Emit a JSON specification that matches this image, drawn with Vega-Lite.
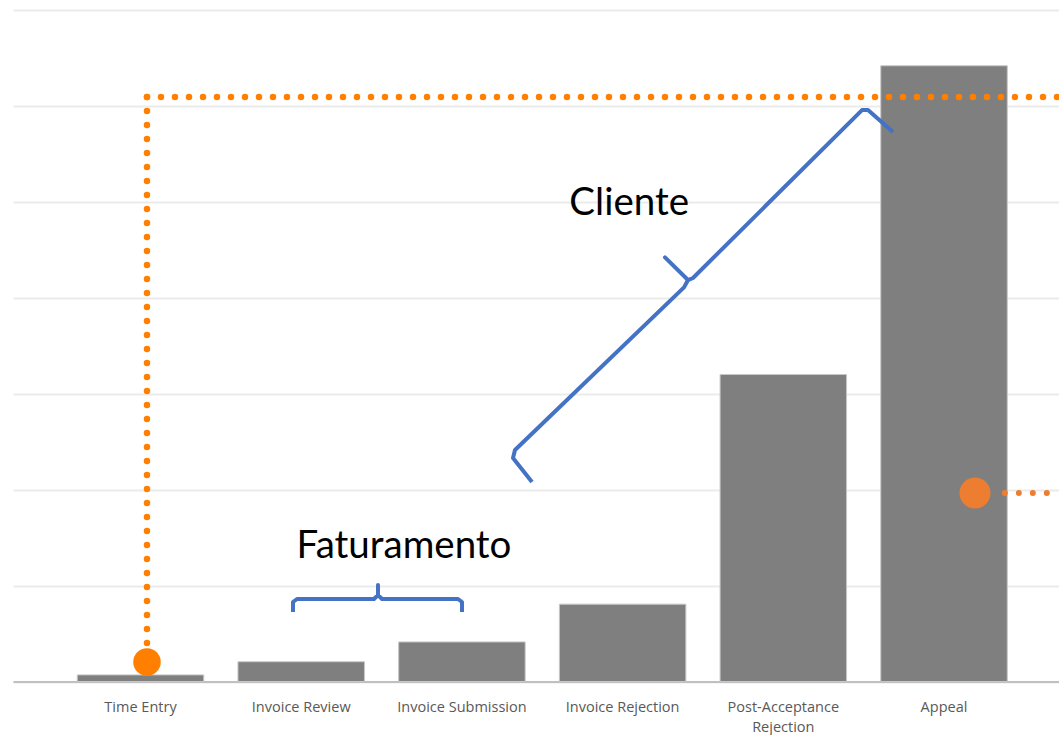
{
  "$schema": "https://vega.github.io/schema/vega-lite/v6.json",
  "width": 1046,
  "height": 671.5,
  "autosize": {"type": "none"},
  "padding": {"left": 13, "top": 10, "right": 0, "bottom": 53.5},
  "background": "white",
  "config": {"view": {"stroke": null}},
  "datasets": {
    "bars": [
      {"stage": "Time Entry", "value": 1.1},
      {"stage": "Invoice Review", "value": 3.3},
      {"stage": "Invoice Submission", "value": 6.6},
      {"stage": "Invoice Rejection", "value": 12.9},
      {"stage": "Post-Acceptance Rejection", "value": 51.2},
      {"stage": "Appeal", "value": 102.7}
    ],
    "guide1": [
      {"seg": "v", "o": 0, "x": 0.0401, "y": 97.48},
      {"seg": "v", "o": 1, "x": 0.0401, "y": 6.25},
      {"seg": "h", "o": 0, "x": 0.0401, "y": 97.48},
      {"seg": "h", "o": 1, "x": 5.7153, "y": 97.48}
    ],
    "guide2": [
      {"o": 0, "x": 5.3781, "y": 31.44},
      {"o": 1, "x": 5.7153, "y": 31.44}
    ],
    "marker1": [{"x": 0.0401, "y": 3.25}],
    "marker2": [{"x": 5.1926, "y": 31.44}],
    "braceBilling": [
      {"o": 0, "x": 0.9487, "y": 11.59},
      {"o": 1, "x": 0.9487, "y": 13.26},
      {"o": 2, "x": 0.9736, "y": 13.76},
      {"o": 3, "x": 1.4527, "y": 13.76},
      {"o": 4, "x": 1.4776, "y": 14.43},
      {"o": 5, "x": 1.4776, "y": 16.09},
      {"o": 6, "x": 1.4776, "y": 14.43},
      {"o": 7, "x": 1.5025, "y": 13.76},
      {"o": 8, "x": 1.9754, "y": 13.76},
      {"o": 9, "x": 2.0003, "y": 13.26},
      {"o": 10, "x": 2.0003, "y": 11.59}
    ],
    "braceClient": [
      {"o": 0, "x": 2.4359, "y": 33.27},
      {"o": 1, "x": 2.3177, "y": 37.27},
      {"o": 2, "x": 2.3301, "y": 38.61},
      {"o": 3, "x": 3.3818, "y": 65.73},
      {"o": 4, "x": 3.4067, "y": 66.96},
      {"o": 5, "x": 3.2636, "y": 70.73},
      {"o": 6, "x": 3.4067, "y": 66.96},
      {"o": 7, "x": 3.4378, "y": 67.30},
      {"o": 8, "x": 4.4894, "y": 95.31},
      {"o": 9, "x": 4.5267, "y": 95.31},
      {"o": 10, "x": 4.6823, "y": 91.64}
    ],
    "labels": [
      {"text": "Cliente", "x": 3.0405, "y": 79.8},
      {"text": "Faturamento", "x": 1.6394, "y": 22.6}
    ]
  },
  "layer": [
    {
      "data": {"name": "bars"},
      "mark": {"type": "bar", "color": "#7f7f7f", "stroke": "#c8c8c8", "strokeWidth": 1},
      "encoding": {
        "x": {
          "field": "stage", "type": "nominal", "sort": null,
          "scale": {"paddingInner": 0.2128, "paddingOuter": 0.3609, "align": 0.554},
          "axis": {
            "title": null, "labelAngle": 0, "ticks": false, "tickSize": 0, "labelPadding": 19,
            "domainColor": "#c0c0c0", "domainWidth": 2, "grid": false,
            "labelFont": "Open Sans", "labelFontSize": 14.5, "labelColor": "#595959",
            "labelLineHeight": 20, "labelOverlap": false, "labelLimit": 300,
            "labelExpr": "datum.label == 'Post-Acceptance Rejection' ? ['Post-Acceptance', 'Rejection'] : datum.label"
          }
        },
        "y": {
          "field": "value", "type": "quantitative",
          "scale": {"domain": [0, 112], "nice": false},
          "axis": {
            "title": null, "labels": false, "ticks": false, "domain": false,
            "values": [0, 16, 32, 48, 64, 80, 96, 112],
            "gridColor": "#ebebeb", "gridWidth": 2
          }
        }
      }
    },
    {
      "data": {"name": "guide1"},
      "mark": {"type": "line", "color": "#FF8000", "strokeWidth": 6.5, "strokeCap": "round", "strokeDash": [0, 14]},
      "encoding": {
        "x": {"field": "x", "type": "quantitative", "scale": {"domain": [-0.7937, 5.7153], "nice": false, "zero": false}, "axis": null},
        "y": {"field": "y", "type": "quantitative"},
        "detail": {"field": "seg"},
        "order": {"field": "o"}
      }
    },
    {
      "data": {"name": "guide2"},
      "mark": {"type": "line", "color": "#ED7D31", "strokeWidth": 6, "strokeCap": "round", "strokeDash": [0, 14]},
      "encoding": {
        "x": {"field": "x", "type": "quantitative", "scale": {"domain": [-0.7937, 5.7153], "nice": false, "zero": false}, "axis": null},
        "y": {"field": "y", "type": "quantitative"},
        "order": {"field": "o"}
      }
    },
    {
      "data": {"name": "marker1"},
      "mark": {"type": "point", "shape": "circle", "filled": true, "color": "#FF8000", "opacity": 1, "size": 760},
      "encoding": {
        "x": {"field": "x", "type": "quantitative", "scale": {"domain": [-0.7937, 5.7153], "nice": false, "zero": false}, "axis": null},
        "y": {"field": "y", "type": "quantitative"}
      }
    },
    {
      "data": {"name": "marker2"},
      "mark": {"type": "point", "shape": "circle", "filled": true, "color": "#ED7D31", "opacity": 1, "size": 962},
      "encoding": {
        "x": {"field": "x", "type": "quantitative", "scale": {"domain": [-0.7937, 5.7153], "nice": false, "zero": false}, "axis": null},
        "y": {"field": "y", "type": "quantitative"}
      }
    },
    {
      "data": {"name": "braceBilling"},
      "mark": {"type": "line", "color": "#4472C4", "strokeWidth": 4, "strokeJoin": "round", "strokeCap": "butt"},
      "encoding": {
        "x": {"field": "x", "type": "quantitative", "scale": {"domain": [-0.7937, 5.7153], "nice": false, "zero": false}, "axis": null},
        "y": {"field": "y", "type": "quantitative"},
        "order": {"field": "o"}
      }
    },
    {
      "data": {"name": "braceClient"},
      "mark": {"type": "line", "color": "#4472C4", "strokeWidth": 4, "strokeJoin": "round", "strokeCap": "butt"},
      "encoding": {
        "x": {"field": "x", "type": "quantitative", "scale": {"domain": [-0.7937, 5.7153], "nice": false, "zero": false}, "axis": null},
        "y": {"field": "y", "type": "quantitative"},
        "order": {"field": "o"}
      }
    },
    {
      "data": {"name": "labels"},
      "mark": {"type": "text", "font": "Lato", "fontSize": 38.5, "color": "#000000", "align": "center", "baseline": "middle"},
      "encoding": {
        "x": {"field": "x", "type": "quantitative", "scale": {"domain": [-0.7937, 5.7153], "nice": false, "zero": false}, "axis": null},
        "y": {"field": "y", "type": "quantitative"},
        "text": {"field": "text"}
      }
    }
  ],
  "resolve": {"scale": {"x": "independent"}, "axis": {"x": "independent"}}
}
